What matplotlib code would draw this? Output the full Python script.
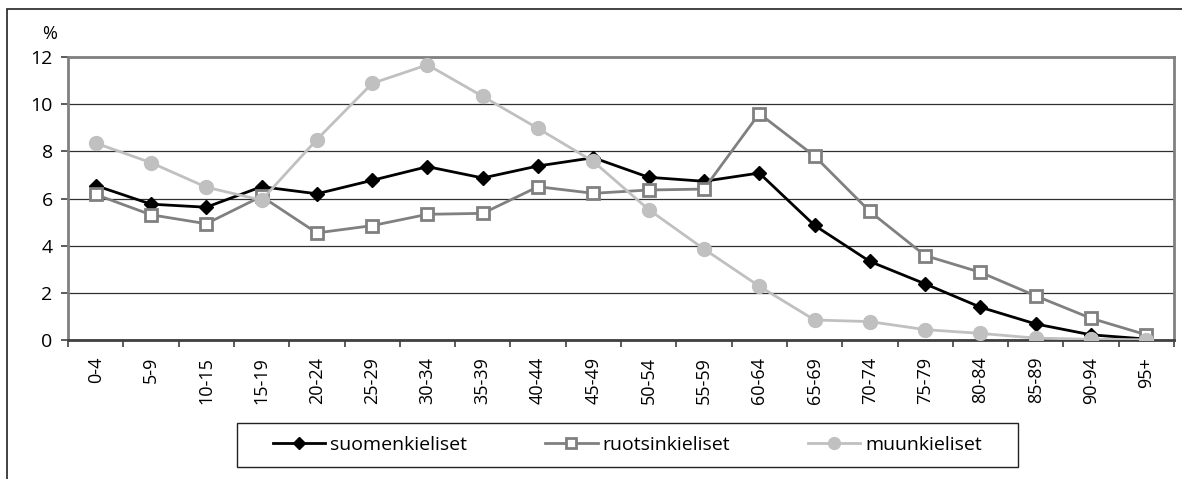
import matplotlib
matplotlib.use('Agg')
import matplotlib.pyplot as plt
from matplotlib.patches import Rectangle
from matplotlib.ticker import FixedLocator

# Données
ikaryhmat = ['0-4', '5-9', '10-15', '15-19', '20-24', '25-29', '30-34', '35-39',
             '40-44', '45-49', '50-54', '55-59', '60-64', '65-69', '70-74',
             '75-79', '80-84', '85-89', '90-94', '95+']
suomenkieliset = [6.55, 5.76, 5.63, 6.5, 6.2, 6.77, 7.35, 6.87, 7.38, 7.73, 6.9,
                  6.73, 7.08, 4.86, 3.33, 2.38, 1.39, 0.68, 0.22, 0.04]
ruotsinkieliset = [6.17, 5.31, 4.93, 6.09, 4.54, 4.85, 5.33, 5.37, 6.5, 6.22, 6.36,
                   6.4, 9.6, 7.8, 5.45, 3.58, 2.87, 1.87, 0.92, 0.22]
muunkieliset = [8.35, 7.52, 6.48, 5.93, 8.5, 10.88, 11.67, 10.33, 8.97, 7.57, 5.53,
                3.86, 2.28, 0.85, 0.78, 0.44, 0.28, 0.08, 0.03, 0.01]

plt.rcParams['font.family'] = ['Open Sans', 'DejaVu Sans']
W, H = 1182, 479
fig = plt.figure(figsize=(W / 100, H / 100), dpi=100)

# Cadre extérieur (coupé à droite et en bas)
fig.patches.append(Rectangle((7 / W, -0.1), 1.2, 1.1 - 9 / H, transform=fig.transFigure,
                             fill=False, edgecolor='#222222', linewidth=1.2))

ax = fig.add_axes([68 / W, 1 - 340 / H, (1174 - 68) / W, (340 - 57) / H])
x = list(range(len(ikaryhmat)))

ax.plot(x, suomenkieliset, color='black', linewidth=2, marker='D', markersize=7,
        markerfacecolor='black', markeredgecolor='black', label='suomenkieliset', zorder=3)
ax.plot(x, ruotsinkieliset, color='#808080', linewidth=2, marker='s', markersize=8,
        markerfacecolor='white', markeredgecolor='#808080', markeredgewidth=2,
        label='ruotsinkieliset', zorder=3)
ax.plot(x, muunkieliset, color='#c0c0c0', linewidth=2, marker='o', markersize=10,
        markerfacecolor='#c0c0c0', markeredgecolor='#c0c0c0', label='muunkieliset', zorder=3)

ax.set_xlim(-0.5, len(ikaryhmat) - 0.5)
ax.set_ylim(0, 12)
ax.set_yticks(range(0, 13, 2))
ax.set_xticks(x)
ax.set_xticklabels(ikaryhmat, rotation=90, fontsize=13)
ax.xaxis.set_minor_locator(FixedLocator([i - 0.5 for i in range(len(ikaryhmat) + 1)]))
ax.tick_params(axis='x', which='major', length=0, pad=12)
ax.tick_params(axis='x', which='minor', length=5, width=1.2, color='#404040', direction='out')
ax.tick_params(axis='y', length=5, width=1.2, color='#404040', labelsize=14, pad=6)

ax.grid(axis='y', color='#303030', linewidth=0.9)
ax.set_axisbelow(True)
for side in ['left', 'top', 'right']:
    ax.spines[side].set_color('#808080')
    ax.spines[side].set_linewidth(2)
ax.spines['bottom'].set_color('#404040')
ax.spines['bottom'].set_linewidth(2)

fig.text(50 / W, 1 - 34 / H, '%', fontsize=13, ha='center', va='center')

# Légende avec cadre dessiné à la main
fig.patches.append(Rectangle((237 / W, 1 - 467 / H), (1018 - 237) / W, 44 / H,
                             transform=fig.transFigure, fill=False,
                             edgecolor='#222222', linewidth=1))
fig.legend(loc='center', bbox_to_anchor=((237 + 1018) / 2 / W, 1 - 445 / H), ncol=3,
           frameon=False, fontsize=14, handlelength=2.7, handletextpad=0.25,
           columnspacing=4.0, markerscale=0.85)

fig.savefig('out.png', dpi=100)
